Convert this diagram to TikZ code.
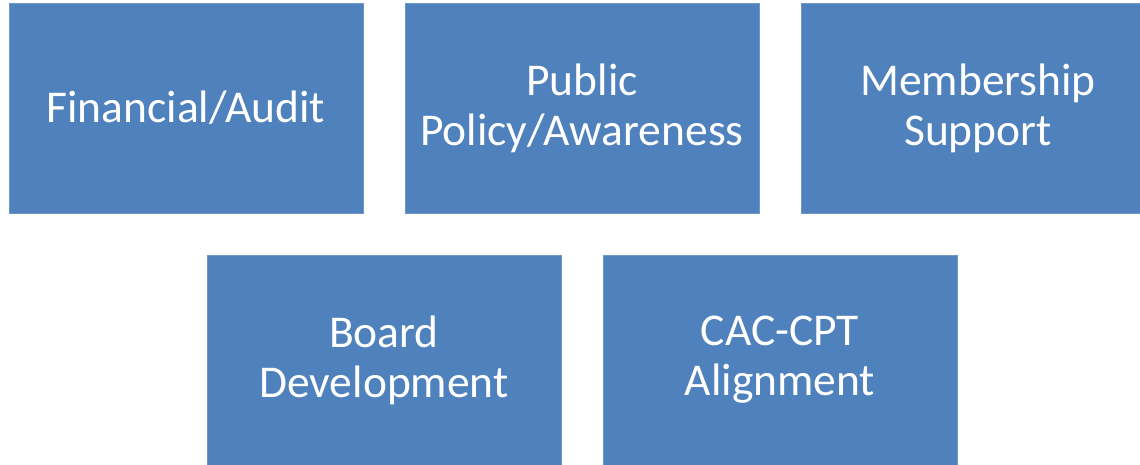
\documentclass[tikz,border=0pt]{standalone}
\usepackage{fontspec}
\setmainfont{Carlito}
\definecolor{boxblue}{HTML}{4F81BD}
\definecolor{boxedge}{HTML}{7097CB}
\begin{document}
\begin{tikzpicture}[x=1pt,y=-1pt,
  cbox/.style={fill=boxblue,draw=boxedge,line width=0.8pt,minimum width=354pt,minimum height=210pt,
    text=white,align=center,inner sep=0pt,font=\fontsize{45.5}{50}\selectfont}]
\useasboundingbox (0,0) rectangle (1140,464);
\fill[white] (0,0) rectangle (1140,464);
\node[cbox] (fin) at (186,108) {Financial/Audit};
\node[cbox] (pub) at (582,108) {Public\\Policy/Awareness};
\node[cbox] (mem) at (978,108) {Membership\\Support};
\node[cbox] (board) at (384,360) {Board\\Development};
\node[cbox] (cac) at (780,360) {CAC-CPT\\Alignment};
\end{tikzpicture}
\end{document}
